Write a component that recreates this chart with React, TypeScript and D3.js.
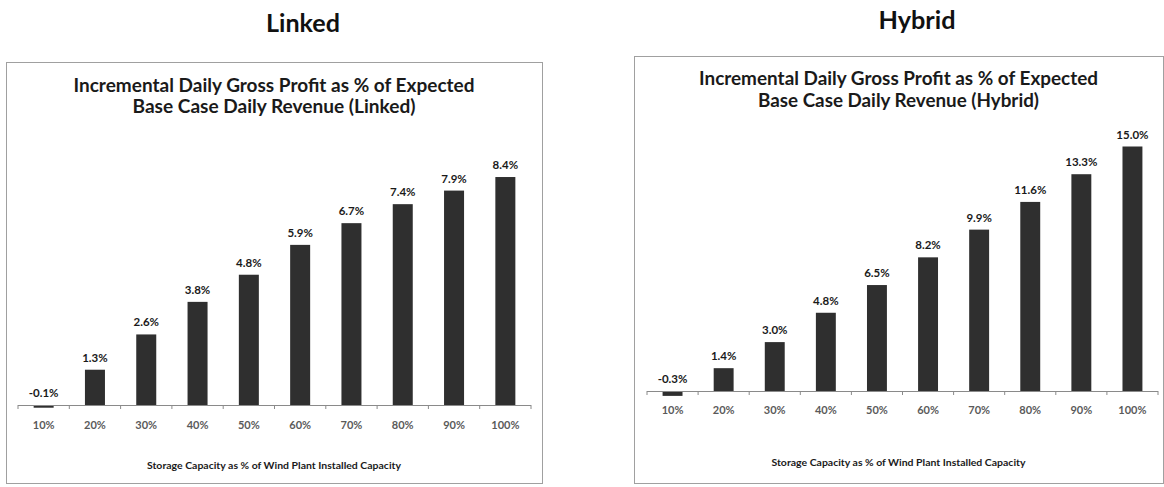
import React from 'react';
import * as d3 from 'd3';

const categories = ['10%', '20%', '30%', '40%', '50%', '60%', '70%', '80%', '90%', '100%'];
const linkedValues = [-0.1, 1.3, 2.6, 3.8, 4.8, 5.9, 6.7, 7.4, 7.9, 8.4];
const hybridValues = [-0.3, 1.4, 3.0, 4.8, 6.5, 8.2, 9.9, 11.6, 13.3, 15.0];
const linkedTitle = ['Incremental Daily Gross Profit as % of Expected', 'Base Case Daily Revenue (Linked)'];
const hybridTitle = ['Incremental Daily Gross Profit as % of Expected', 'Base Case Daily Revenue (Hybrid)'];
const xAxisTitle = 'Storage Capacity  as % of Wind Plant Installed Capacity';

const FONT = 'Lato, "Open Sans", "DejaVu Sans", sans-serif';

type PanelProps = {
  heading: string;
  headingX: number;
  headingY: number;
  headingW: number;
  title: string[];
  values: number[];
  box: { x0: number; x1: number; y0: number; y1: number };
  titleY: [number, number];
  titleW: [number, number];
  axisX: [number, number];
  axisY: number;
  yMax: number;
  yTop: number;
  tickLabelY: number;
  axisTitleY: number;
};

function Panel(p: PanelProps) {
  const x = d3
    .scaleBand<string>()
    .domain(categories)
    .range(p.axisX)
    .paddingInner(0.61)
    .paddingOuter(0.305);
  const y = d3.scaleLinear().domain([0, p.yMax]).range([p.axisY, p.yTop]);
  const cx = (p.box.x0 + p.box.x1) / 2;
  const step = x.step();
  const boundaries = d3.range(categories.length + 1).map((i) => p.axisX[0] + i * step);
  return (
    <g>
      <text
        x={p.headingX}
        y={p.headingY}
        textAnchor="middle"
        fontFamily={FONT}
        fontWeight={700}
        fontSize={24}
        textLength={p.headingW}
        lengthAdjust="spacingAndGlyphs"
        fill="#111"
      >
        {p.heading}
      </text>
      <rect
        x={p.box.x0 + 0.5}
        y={p.box.y0 + 0.5}
        width={p.box.x1 - p.box.x0}
        height={p.box.y1 - p.box.y0}
        fill="#fff"
        stroke="#a0a0a0"
        strokeWidth={1}
      />
      {p.title.map((t, i) => (
        <text
          key={i}
          x={cx}
          y={p.titleY[i]}
          textAnchor="middle"
          fontFamily={FONT}
          fontWeight={700}
          fontSize={18}
          textLength={p.titleW[i]}
          lengthAdjust="spacingAndGlyphs"
          fill="#1a1a1a"
        >
          {t}
        </text>
      ))}
      {p.values.map((v, i) => {
        const c = categories[i];
        const top = Math.min(y(v), y(0));
        const h = Math.max(Math.abs(y(v) - y(0)), 2);
        return (
          <g key={c}>
            <rect x={x(c)} y={top} width={x.bandwidth()} height={h} fill="#2f2f2f" />
            <text
              x={(x(c) as number) + x.bandwidth() / 2}
              y={Math.min(y(v), y(0)) - 8}
              textAnchor="middle"
              fontFamily={FONT}
              fontWeight={700}
              fontSize={11.5}
              fill="#1a1a1a"
            >
              {v.toFixed(1) + '%'}
            </text>
            <text
              x={(x(c) as number) + x.bandwidth() / 2}
              y={p.tickLabelY}
              textAnchor="middle"
              fontFamily={FONT}
              fontWeight={700}
              fontSize={11}
              fill="#5a5a5a"
            >
              {c}
            </text>
          </g>
        );
      })}
      <line x1={p.axisX[0]} x2={p.axisX[1]} y1={p.axisY + 0.5} y2={p.axisY + 0.5} stroke="#8a8a8a" strokeWidth={1} />
      {boundaries.map((bx, i) => (
        <line key={i} x1={bx} x2={bx} y1={p.axisY} y2={p.axisY + 4} stroke="#8a8a8a" strokeWidth={1} />
      ))}
      <text
        x={cx}
        y={p.axisTitleY}
        textAnchor="middle"
        fontFamily={FONT}
        fontWeight={700}
        fontSize={9.5}
        textLength={254}
        lengthAdjust="spacingAndGlyphs"
        fill="#1a1a1a"
      >
        {xAxisTitle}
      </text>
    </g>
  );
}

export default function App() {
  return (
    <svg
      width={1164}
      height={487}
      viewBox="0 0 1164 487"
      style={{ position: 'absolute', left: 0, top: 0, background: '#fff' }}
    >
      <rect x={0} y={0} width={1164} height={487} fill="#fff" />
      <Panel
        heading="Linked"
        headingX={303}
        headingY={32}
        headingW={74}
        title={linkedTitle}
        values={linkedValues}
        box={{ x0: 6, x1: 542, y0: 62, y1: 483 }}
        titleY={[92, 113]}
        titleW={[401, 283]}
        axisX={[18, 531]}
        axisY={405}
        yMax={9}
        yTop={405 - 9 * 27.14}
        tickLabelY={429}
        axisTitleY={469}
      />
      <Panel
        heading="Hybrid"
        headingX={917}
        headingY={29}
        headingW={77}
        title={hybridTitle}
        values={hybridValues}
        box={{ x0: 634, x1: 1163, y0: 56, y1: 483 }}
        titleY={[85, 107]}
        titleW={[399, 281]}
        axisX={[647, 1158]}
        axisY={391}
        yMax={16}
        yTop={391 - 16 * 16.3}
        tickLabelY={414}
        axisTitleY={466}
      />
    </svg>
  );
}
